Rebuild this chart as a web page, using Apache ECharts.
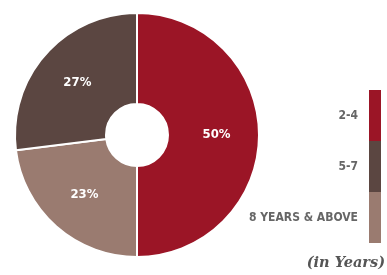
<!DOCTYPE html>
<html>
<head>
<meta charset="UTF-8">
<title>Experience pie</title>
<script src="https://cdn.jsdelivr.net/npm/echarts@6/dist/echarts.min.js"></script>
<style>
	html, body { margin: 0; padding: 0; background: #fff; }
	#main { width: 387px; height: 275px; }
</style>
</head>
<body>
<div id="main"></div>
<script type="text/javascript">
	// data, clockwise from 12 o'clock
	var sliceNames = ['2-4', '8 YEARS & ABOVE', '5-7'];
	var sliceValues = [50, 23, 27];
	var sliceColors = ['#9b1526', '#9a7b70', '#5b4641'];
	var legendOrder = ['2-4', '5-7', '8 YEARS & ABOVE'];
	var unitNote = '(in Years)';

	var condensed = '"DejaVu Sans Condensed", "Liberation Sans Narrow", sans-serif';

	var myChart = echarts.init(document.getElementById('main'));

	var pieData = [];
	for (var i = 0; i < sliceNames.length; i++) {
		pieData.push({
			name: sliceNames[i],
			value: sliceValues[i],
			itemStyle: { color: sliceColors[i] }
		});
	}

	var option = {
		animation: false,
		color: sliceColors,
		legend: {
			orient: 'vertical',
			right: 6,
			top: 90,
			padding: 0,
			align: 'right',
			data: legendOrder,
			icon: 'rect',
			itemWidth: 12,
			itemHeight: 51,
			itemGap: 0,
			itemStyle: { borderWidth: 0 },
			textStyle: {
				fontFamily: condensed,
				fontSize: 12,
				fontWeight: 'bold',
				color: '#666',
				padding: [0, 6, 0, 0]
			}
		},
		graphic: [{
			type: 'text',
			right: 2,
			top: 256,
			style: {
				text: unitNote,
				font: 'italic bold 14.5px "DejaVu Serif", serif',
				fill: '#555'
			}
		}],
		series: [{
			type: 'pie',
			center: [137, 135],
			radius: [31, 122],
			startAngle: 90,
			clockwise: true,
			avoidLabelOverlap: false,
			itemStyle: {
				borderColor: '#fff',
				borderWidth: 2
			},
			label: {
				position: 'inside',
				formatter: '{c}%',
				color: '#fff',
				fontFamily: condensed,
				fontWeight: 'bold',
				fontSize: 13
			},
			labelLine: { show: false },
			emphasis: { disabled: true },
			data: pieData
		}]
	};

	myChart.setOption(option);
	window.onresize = myChart.resize;
</script>
</body>
</html>
